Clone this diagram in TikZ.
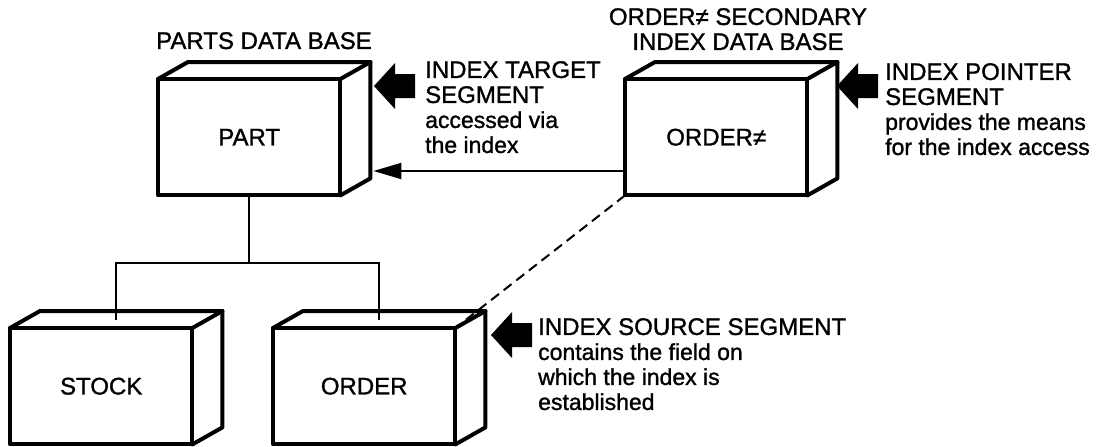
\documentclass[tikz,border=0pt]{standalone}
\usepackage{fontspec}
\setmainfont{Liberation Sans}
\newfontfamily\medfont[FakeBold=1.2]{Liberation Sans}
\usetikzlibrary{arrows.meta}
\newcommand\segbox[1]{%
  \draw[boxline] (#1.north west) rectangle (#1.south east);
  \draw[boxline] (#1.north west) -- ([shift={(30,-17)}]#1.north west)
     -- ([shift={(30,-17)}]#1.north east) -- ([shift={(30,-17)}]#1.south east)
     -- (#1.south east);
  \draw[boxline] (#1.north east) -- ([shift={(30,-17)}]#1.north east);}
\newcommand\lcline[1]{{\fontsize{23}{25}\selectfont #1}}
\begin{document}
\begin{tikzpicture}[x=1pt,y=-1pt,
  txt/.style={font=\medfont\fontsize{24}{25}\selectfont},
  seg/.style={txt, draw=none, minimum width=182pt, minimum height=116pt,
              inner sep=0pt, anchor=north west},
  boxline/.style={line width=4pt, line join=round, line cap=round},
  conn/.style={line width=2pt},
  lbl/.style={txt, inner sep=0pt, align=left, anchor=north west},
  blockarrow/.pic={\fill (0,0) -- (21,-23) -- (21,-12) -- (41,-12) -- (41,12)
                     -- (21,12) -- (21,23) -- cycle;}]
\fill[white] (0,0) rectangle (1096,447);

% segments
\node[seg] (part)  at (158,79)  {PART};
\node[seg] (ordx)  at (625,79)  {ORDER≠};
\node[seg] (stock) at (10,328)  {STOCK};
\node[seg] (order) at (273,328) {ORDER};
\segbox{part}
\segbox{ordx}
\segbox{stock}
\segbox{order}

% tree connectors
\coordinate (j) at (0,263);
\coordinate (stocktop) at ([shift={(15,-8.5)}]stock.north);
\coordinate (ordertop) at ([shift={(15,-8.5)}]order.north);
\draw[conn] (part.south) -- (part.south |- j);
\draw[conn] (stocktop) -- (stocktop |- j) -- (ordertop |- j) -- (ordertop);

% index access arrow
\coordinate (ay) at (0,171);
\draw[conn, -{Triangle[length=28pt,width=16pt]}]
  (ordx.west |- ay) -- ([xshift=33pt]part.east |- ay);

% dashed link
\draw[conn, dash pattern=on 10pt off 6pt] (ordx.south west) -- (order.north east);

% block arrows
\pic (ta) at (374,86)  {blockarrow};
\pic (pa) at (837,86)  {blockarrow};
\pic (sa) at (491,335) {blockarrow};

% titles
\node[txt, inner sep=0pt, anchor=north] (t1) at (264,32) {PARTS DATA BASE};
\node[txt, inner sep=0pt, anchor=north, align=center] (t2) at (738,8)
  {ORDER≠ SECONDARY\\INDEX DATA BASE};

% annotations
\node[lbl] (l1) at (425,61)
  {INDEX TARGET\\SEGMENT\\\lcline{accessed via}\\\lcline{the index}};
\node[lbl] (l2) at (885,63)
  {INDEX POINTER\\SEGMENT\\\lcline{provides the means}\\\lcline{for the index access}};
\node[lbl] (l3) at (538,318)
  {INDEX SOURCE SEGMENT\\\lcline{contains the field on}\\\lcline{which the index is}\\\lcline{established}};
\end{tikzpicture}
\end{document}
